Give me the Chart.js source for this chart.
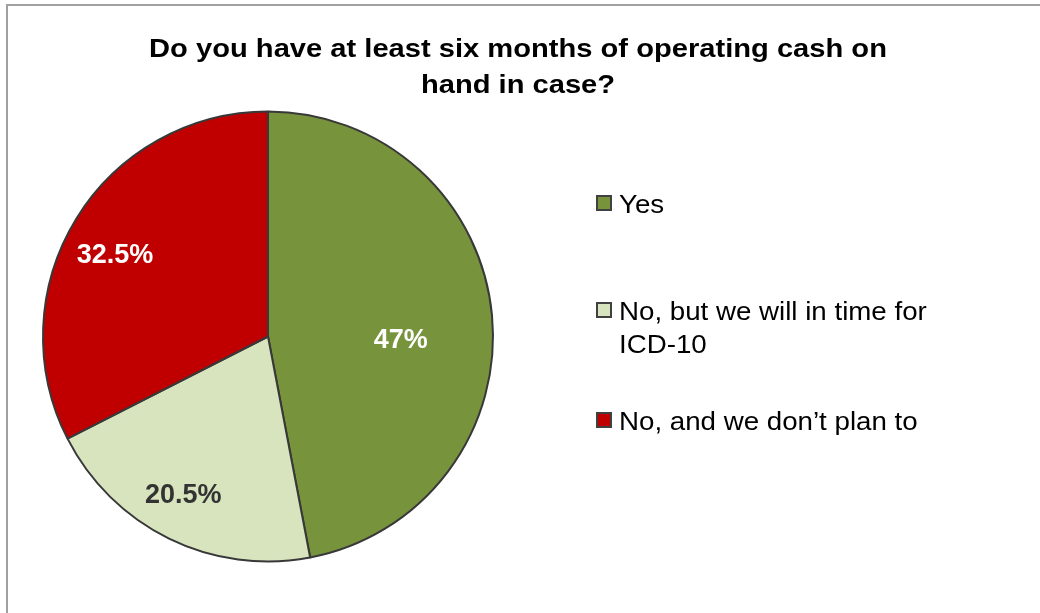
<!DOCTYPE html>
<html>
<head>
<meta charset="utf-8">
<script src="https://cdn.jsdelivr.net/npm/chart.js@4.4.1/dist/chart.umd.min.js"></script>
<style>
    html, body { margin: 0; padding: 0; background: #fff; }
    #wrap { position: relative; width: 1040px; height: 613px; overflow: hidden; }
    #frame {
        position: absolute; left: 6px; top: 4px; width: 1100px; height: 700px;
        border-left: 2px solid #a0a0a0; border-top: 2px solid #a0a0a0;
    }
    #cashChart { position: absolute; left: 0; top: 0; }
</style>
</head>
<body>
<div id="wrap">
    <div id="frame"></div>
    <canvas id="cashChart" width="1040" height="613"></canvas>
</div>
<script>
(function cash () {
    'use strict';

    var titleLines = [
        'Do you have at least six months of operating cash on',
        'hand in case?'
    ];
    var categories = [
        'Yes',
        'No, but we will in time for ICD-10',
        'No, and we don\u2019t plan to'
    ];
    var shares = [47, 20.5, 32.5];
    var valueLabels = ['47%', '20.5%', '32.5%'];
    var colors = ['#77933C', '#D7E4BD', '#C00000'];
    var labelColors = ['#FFFFFF', '#333333', '#FFFFFF'];

    var FONT = '"Liberation Sans", Arial, sans-serif';

    // text a bit wider than Arial, like the original rendering
    function wideText(c, text, x, y, sx) {
        c.save();
        c.translate(x, y);
        c.scale(sx, 1);
        c.fillText(text, 0, 0);
        c.restore();
    }

    // title drawn over the full width, the pie sits in the left part
    var titlePlugin = {
        id: 'excelTitle',
        afterDraw: function (chart, args, opts) {
            var c = chart.ctx;
            c.save();
            c.font = 'bold ' + opts.size + 'px ' + FONT;
            c.fillStyle = '#000';
            c.textAlign = 'center';
            c.textBaseline = 'alphabetic';
            opts.lines.forEach(function (line, i) {
                wideText(c, line, opts.x, opts.y + i * opts.lineHeight, opts.stretch);
            });
            c.restore();
        }
    };

    var sliceLabelPlugin = {
        id: 'sliceLabels',
        afterDatasetsDraw: function (chart, args, opts) {
            var c = chart.ctx;
            var meta = chart.getDatasetMeta(0);
            c.save();
            c.font = 'bold ' + opts.size + 'px ' + FONT;
            c.textAlign = 'center';
            c.textBaseline = 'middle';
            meta.data.forEach(function (arc, i) {
                var p = arc.getProps(['x', 'y', 'startAngle', 'endAngle', 'outerRadius'], true);
                var mid = (p.startAngle + p.endAngle) / 2 + opts.turn[i] * Math.PI / 180;
                var r = p.outerRadius * opts.radius[i];
                c.fillStyle = labelColors[i];
                c.fillText(valueLabels[i], p.x + Math.cos(mid) * r, p.y + Math.sin(mid) * r);
            });
            c.restore();
        }
    };

    function wrapText(c, text, maxWidth) {
        var words = text.split(' ');
        var lines = [];
        var cur = '';
        words.forEach(function (w) {
            var test = cur ? cur + ' ' + w : w;
            if (cur && c.measureText(test).width > maxWidth) {
                lines.push(cur);
                cur = w;
            } else {
                cur = test;
            }
        });
        lines.push(cur);
        return lines;
    }

    var legendPlugin = {
        id: 'sideLegend',
        afterDraw: function (chart, args, opts) {
            var c = chart.ctx;
            var ds = chart.data.datasets[0];
            c.save();
            c.font = opts.size + 'px ' + FONT;
            c.textBaseline = 'alphabetic';
            c.textAlign = 'left';
            chart.data.labels.forEach(function (label, i) {
                var base = opts.baselines[i];
                var top = base - 17;
                c.fillStyle = ds.backgroundColor[i];
                c.fillRect(opts.x, top, opts.box, opts.box);
                c.strokeStyle = '#404040';
                c.lineWidth = 2;
                c.strokeRect(opts.x, top, opts.box, opts.box);
                c.fillStyle = '#000';
                wrapText(c, label, opts.maxWidth).forEach(function (line, j) {
                    wideText(c, line, opts.x + opts.box + 8, base + j * opts.lineHeight, opts.stretch);
                });
            });
            c.restore();
        }
    };

    var ctx = document.getElementById('cashChart').getContext('2d');

    new Chart(ctx, {
        type: 'pie',
        data: {
            labels: categories,
            datasets: [{
                data: shares,
                backgroundColor: colors,
                borderColor: '#383838',
                borderWidth: 2,
                radius: 225
            }]
        },
        options: {
            responsive: false,
            animation: false,
            layout: {
                padding: { left: 42, right: 546, top: 110.5, bottom: 50.5 }
            },
            plugins: {
                legend: { display: false },
                title: { display: false },
                tooltip: { enabled: false },
                excelTitle: { lines: titleLines, x: 518, y: 57, lineHeight: 36, size: 26, stretch: 1.12 },
                sliceLabels: { size: 27, radius: [0.59, 0.80, 0.77], turn: [7, 2, -3.5] },
                sideLegend: {
                    x: 597, box: 14, size: 26, stretch: 1.065, maxWidth: 300, lineHeight: 33,
                    baselines: [213, 320, 430]
                }
            }
        },
        plugins: [titlePlugin, sliceLabelPlugin, legendPlugin]
    });
}());
</script>
</body>
</html>
